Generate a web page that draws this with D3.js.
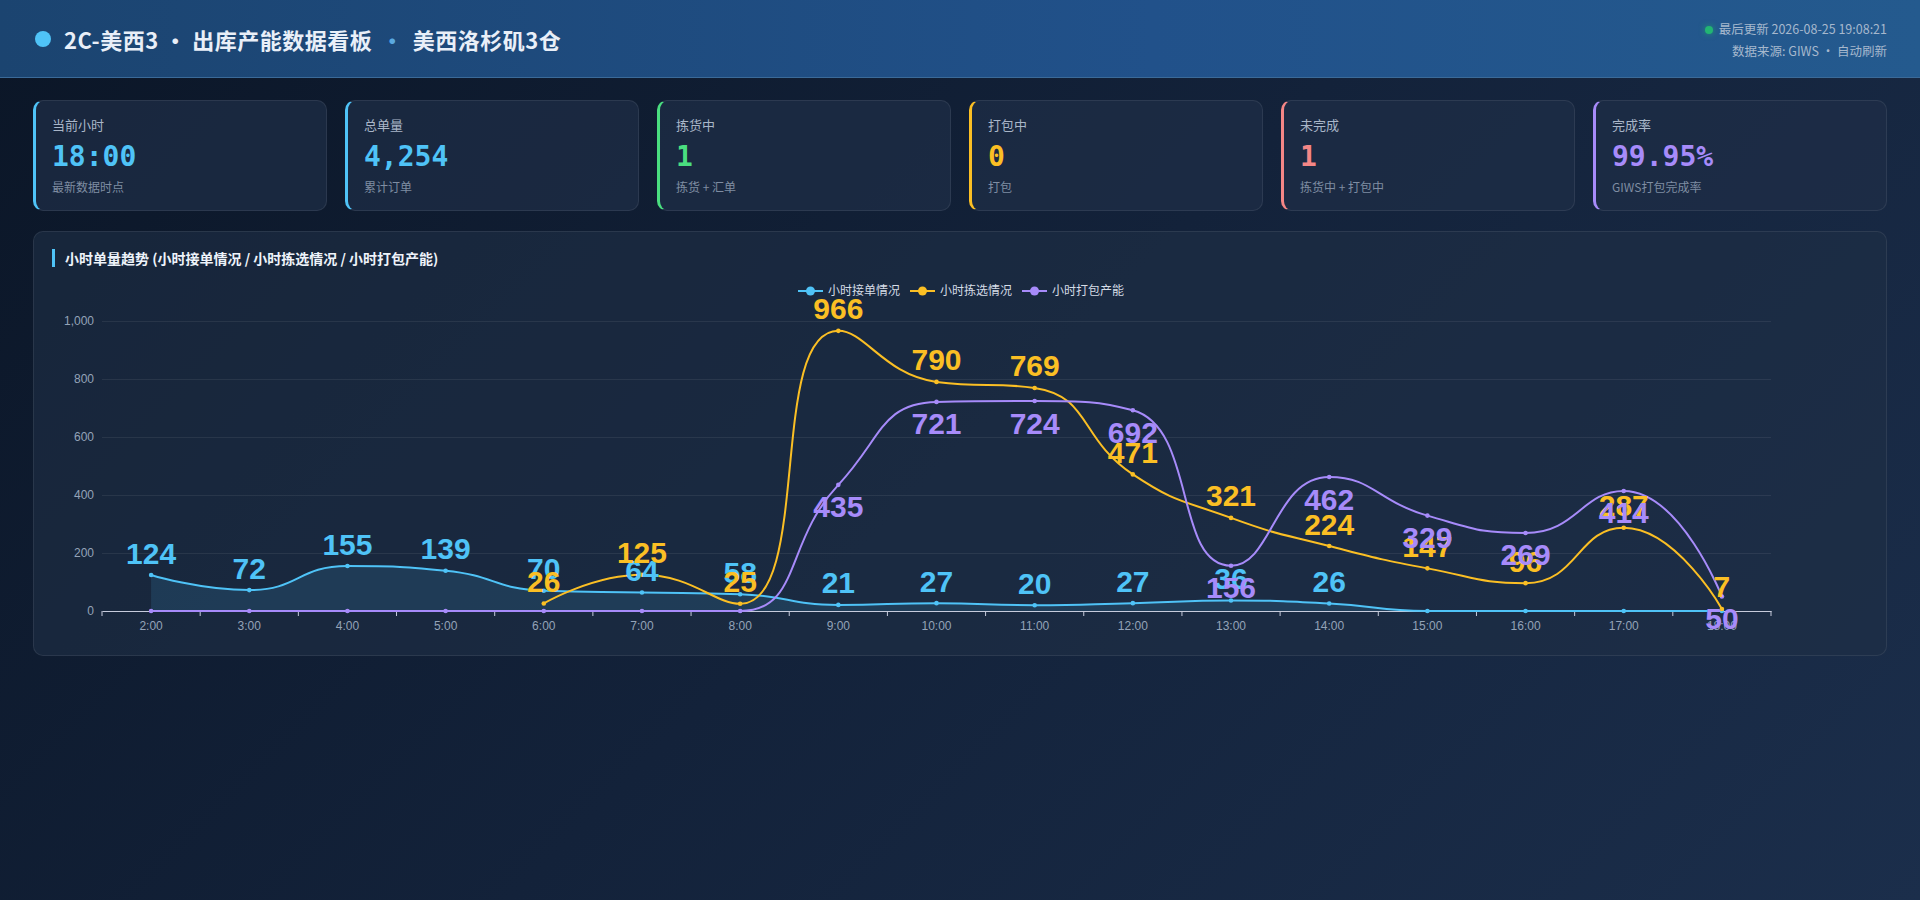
<!DOCTYPE html>
<html lang="zh-CN">
<head>
<meta charset="utf-8">
<title>2C-美西3 · 出库产能数据看板</title>
<script src="https://cdn.jsdelivr.net/npm/d3@7"></script>
<style>
  * { box-sizing: border-box; margin: 0; padding: 0; }
  html, body { width: 1920px; height: 900px; overflow: hidden; }
  body {
    position: relative;
    background: linear-gradient(135deg, #0b1627 0%, #13223a 50%, #1b2e4b 100%);
    font-family: "Noto Sans CJK SC", "Liberation Sans", sans-serif;
    color: #e2e8f0;
  }
  .header {
    position: absolute; left: 0; top: 0; width: 1920px; height: 78px;
    background: linear-gradient(90deg, #1b4470 0%, #21518a 60%, #245a8e 100%);
    border-bottom: 1px solid #3b6a98;
  }
  .title {
    position: absolute; left: 35px; top: 0; height: 78px;
    display: flex; align-items: center;
    font-size: 22px; font-weight: 700; color: #e9eff8; letter-spacing: 0.5px;
  }
  .title .dot { width: 16px; height: 16px; border-radius: 50%; background: #4fc3f7; margin-right: 13px; }
  .title .sep2 { color: #5aa9e0; margin: 0 9px; }
  .meta {
    position: absolute; right: 33px; top: 18px; text-align: right;
    font-size: 12.5px; line-height: 22px; color: #a6b8cd;
  }
  .meta .live { display: inline-block; width: 8px; height: 8px; border-radius: 50%;
    background: #22b573; box-shadow: 0 0 6px rgba(34,197,94,0.6); margin-right: 6px; vertical-align: 0px; }
  .card {
    position: absolute; top: 100px; width: 294px; height: 111px;
    background: rgba(30, 46, 70, 0.72);
    border: 1px solid rgba(255,255,255,0.08);
    border-left: 3px solid #4fc3f7;
    border-radius: 10px;
  }
  .card .lbl { position: absolute; left: 16px; top: 14px; font-size: 13px; line-height: 20px; color: #a9b6c8; }
  .card .val { position: absolute; left: 16px; top: 38px; font-size: 28px; line-height: 36px; font-weight: 700;
    font-family: "DejaVu Sans Mono", "Liberation Mono", monospace; }
  .card .sub { position: absolute; left: 16px; top: 77px; font-size: 12px; line-height: 18px; color: #7f8da2; }
  .panel {
    position: absolute; left: 33px; top: 231px; width: 1854px; height: 425px;
    background: rgba(30, 46, 70, 0.62);
    border: 1px solid rgba(255,255,255,0.08);
    border-radius: 10px;
  }
  .panel .ptitle {
    position: absolute; left: 18px; top: 17px; height: 18px; padding-left: 10px;
    border-left: 3px solid #4fc3f7;
    font-size: 14px; line-height: 18px; font-weight: 700; color: #eef3fa;
  }
  .panel svg { position: absolute; left: 0; top: 0; }
</style>
</head>
<body>
<div class="header">
  <div class="title"><span class="dot"></span><span>2C-美西3 · 出库产能数据看板</span><span class="sep2">·</span><span>美西洛杉矶3仓</span></div>
  <div class="meta">
    <div><span class="live"></span>最后更新 <span id="updated"></span></div>
    <div>数据来源: GIWS · 自动刷新</div>
  </div>
</div>
<div id="cards"></div>
<div class="panel" id="panel">
  <div class="ptitle">小时单量趋势 (小时接单情况 / 小时拣选情况 / 小时打包产能)</div>
</div>
<script>
// ---- data ----
var hours = ["2:00","3:00","4:00","5:00","6:00","7:00","8:00","9:00","10:00","11:00","12:00","13:00","14:00","15:00","16:00","17:00","18:00"];
var orderIn = [124, 72, 155, 139, 70, 64, 58, 21, 27, 20, 27, 36, 26, 0, 0, 0, 0];
var picked  = [null, null, null, null, 26, 125, 25, 966, 790, 769, 471, 321, 224, 147, 96, 287, 7];
var packed  = [0, 0, 0, 0, 0, 0, 0, 435, 721, 724, 692, 156, 462, 329, 269, 414, 50];
var seriesNames = ["小时接单情况", "小时拣选情况", "小时打包产能"];
var yTicks = [0, 200, 400, 600, 800, 1000];

var cardLabels = ["当前小时", "总单量", "拣货中", "打包中", "未完成", "完成率"];
var cardValues = ["18:00", "4,254", "1", "0", "1", "99.95%"];
var cardSubs   = ["最新数据时点", "累计订单", "拣货 + 汇单", "打包", "拣货中 + 打包中", "GIWS打包完成率"];
var updatedAt = "2026-08-25 19:08:21";

// ---- styles ----
var seriesColors = ["#4fc3f7", "#fbbf24", "#a78bfa"];
var cardColors = ["#4fc3f7", "#4fc3f7", "#4ade80", "#fbbf24", "#f48686", "#a78bfa"];

d3.select("#updated").text(updatedAt);

// KPI cards
d3.select("#cards")
    .selectAll("div.card")
    .data(cardLabels)
    .enter()
    .append("div")
    .attr("class", "card")
    .style("left", function(d, i){ return (33 + i * 312) + "px"; })
    .style("border-left-color", function(d, i){ return cardColors[i]; })
    .each(function(d, i){
        var c = d3.select(this);
        c.append("div").attr("class", "lbl").text(d);
        c.append("div").attr("class", "val").style("color", cardColors[i]).text(cardValues[i]);
        c.append("div").attr("class", "sub").text(cardSubs[i]);
    });

// smooth curve in the style of echarts "smooth: true"
function SmoothCurve(context) { this._context = context; this._smooth = 0.5; }
function clamp(v, a, b) { return Math.max(Math.min(a, b), Math.min(Math.max(a, b), v)); }
SmoothCurve.prototype = {
    areaStart: function(){ this._line = 0; },
    areaEnd: function(){ this._line = NaN; },
    lineStart: function(){ this._pts = []; },
    lineEnd: function(){
        var pts = this._pts, ctx = this._context, s = this._smooth, n = pts.length;
        if (n) {
            if (this._line) ctx.lineTo(pts[0][0], pts[0][1]); else ctx.moveTo(pts[0][0], pts[0][1]);
            var cp0x = pts[0][0], cp0y = pts[0][1];
            for (var k = 1; k < n; k++) {
                var px = pts[k-1][0], py = pts[k-1][1], x = pts[k][0], y = pts[k][1];
                var cp1x = x, cp1y = y, ncx = x, ncy = y;
                if (k < n - 1) {
                    var nx = pts[k+1][0], ny = pts[k+1][1];
                    var l0 = Math.hypot(x - px, y - py), l1 = Math.hypot(nx - x, ny - y);
                    if (l0 > 0 && l1 > 0) {
                        var r = l1 / (l0 + l1);
                        ncx = clamp(x + (nx - px) * s * r, nx, x);
                        ncy = clamp(y + (ny - py) * s * r, ny, y);
                        cp1x = clamp(x - (ncx - x) * l0 / l1, px, x);
                        cp1y = clamp(y - (ncy - y) * l0 / l1, py, y);
                        ncx = x + (x - cp1x) * l1 / l0;
                        ncy = y + (y - cp1y) * l1 / l0;
                    }
                }
                ctx.bezierCurveTo(cp0x, cp0y, cp1x, cp1y, x, y);
                cp0x = ncx; cp0y = ncy;
            }
        }
        if (this._line || (this._line !== 0 && n === 1)) ctx.closePath();
        this._line = 1 - this._line;
    },
    point: function(x, y){ this._pts.push([+x, +y]); }
};
function smoothCurve(context) { return new SmoothCurve(context); }

// ---- chart ----
var W = 1854, H = 425;
var margin = {left: 68, right: 117, top: 89, bottom: 46};
var numFont = "'Liberation Sans', Arial, 'Noto Sans CJK SC', sans-serif";

var svg = d3.select("#panel").append("svg").attr("width", W).attr("height", H);

var x = d3.scaleBand().domain(hours).range([margin.left, W - margin.right]).padding(0);
var y = d3.scaleLinear().domain([0, 1000]).range([H - margin.bottom, margin.top]);
var cx = function(i){ return x(hours[i]) + x.bandwidth() / 2; };

// grid + y axis
var yAxis = svg.append("g")
    .attr("transform", "translate(" + margin.left + ",0)")
    .call(d3.axisLeft(y).tickValues(yTicks).tickFormat(d3.format(","))
        .tickSizeInner(-(W - margin.left - margin.right)).tickSizeOuter(0).tickPadding(8));
yAxis.select(".domain").remove();
yAxis.selectAll(".tick line").attr("stroke", "rgba(255,255,255,0.07)");
yAxis.selectAll(".tick text").attr("fill", "#94a3b8").style("font-size", "12px").style("font-family", numFont);

// x axis
var xAxis = svg.append("g")
    .attr("transform", "translate(0," + y(0) + ")")
    .call(d3.axisBottom(x).tickSize(0).tickPadding(10));
xAxis.select(".domain").attr("stroke", "#c6cbdc");
xAxis.selectAll(".tick text").attr("fill", "#94a3b8").style("font-size", "12px").style("font-family", numFont);
xAxis.selectAll("line.bound")
    .data(hours.map(function(h){ return x(h); }).concat([x(hours[hours.length - 1]) + x.bandwidth()]))
    .enter()
    .append("line")
    .attr("class", "bound")
    .attr("x1", function(d){ return d; })
    .attr("x2", function(d){ return d; })
    .attr("y1", 0).attr("y2", 5)
    .attr("stroke", "#c6cbdc");

var allSeries = [orderIn, picked, packed];

// area under 接单
svg.append("path")
    .datum(orderIn)
    .attr("fill", "rgba(79,195,247,0.13)")
    .attr("d", d3.area()
        .defined(function(d){ return d != null; })
        .x(function(d, i){ return cx(i); })
        .y0(y(0))
        .y1(function(d){ return y(d); })
        .curve(smoothCurve));

var line = d3.line()
    .defined(function(d){ return d != null; })
    .x(function(d, i){ return cx(i); })
    .y(function(d){ return y(d); })
    .curve(smoothCurve);

allSeries.forEach(function(data, s){
    svg.append("path")
        .datum(data)
        .attr("fill", "none")
        .attr("stroke", seriesColors[s])
        .attr("stroke-width", 2)
        .attr("d", line);
    svg.append("g")
        .selectAll("circle")
        .data(data.map(function(v, i){ return {v: v, i: i}; }).filter(function(d){ return d.v != null; }))
        .enter()
        .append("circle")
        .attr("cx", function(d){ return cx(d.i); })
        .attr("cy", function(d){ return y(d.v); })
        .attr("r", 2.3)
        .attr("fill", seriesColors[s]);
});

// value labels (purple below, others above)
allSeries.forEach(function(data, s){
    svg.append("g")
        .selectAll("text")
        .data(data.map(function(v, i){ return {v: v, i: i}; }).filter(function(d){ return d.v != null && d.v !== 0; }))
        .enter()
        .append("text")
        .attr("x", function(d){ return cx(d.i); })
        .attr("y", function(d){ return y(d.v) + (s === 2 ? 22 : -22); })
        .attr("dy", "0.35em")
        .attr("text-anchor", "middle")
        .attr("fill", seriesColors[s])
        .style("font-size", "30px")
        .style("font-weight", "bold")
        .style("font-family", numFont)
        .text(function(d){ return d.v; });
});

// legend
var legend = svg.append("g");
var lx = 0;
seriesNames.forEach(function(name, s){
    var g = legend.append("g").attr("transform", "translate(" + lx + ",0)");
    g.append("line").attr("x1", 0).attr("x2", 25).attr("y1", 0).attr("y2", 0)
        .attr("stroke", seriesColors[s]).attr("stroke-width", 2);
    g.append("circle").attr("cx", 12.5).attr("cy", 0).attr("r", 4.5).attr("fill", seriesColors[s]);
    var t = g.append("text").attr("x", 30).attr("y", 0).attr("dy", "0.35em")
        .attr("fill", "#d5dce6").style("font-size", "12px")
        .style("font-family", "'Noto Sans CJK SC', sans-serif").text(name);
    lx += 30 + t.node().getComputedTextLength() + 10;
});
lx -= 10;
legend.attr("transform", "translate(" + (W / 2 - lx / 2) + ",59)");
</script>
</body>
</html>
